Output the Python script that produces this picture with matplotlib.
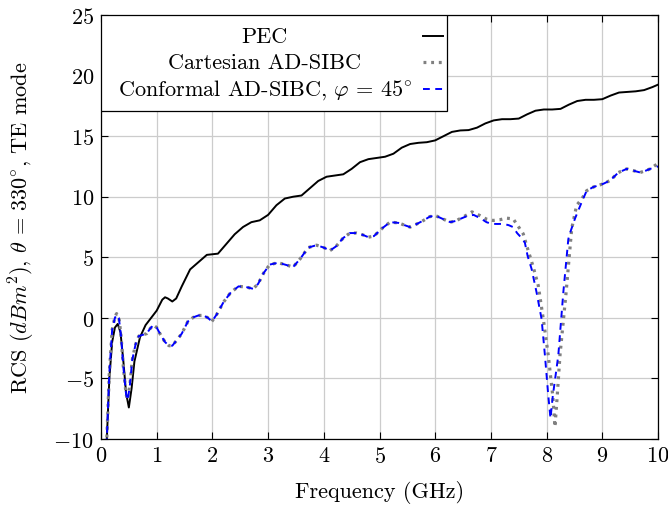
import matplotlib
matplotlib.use("Agg")
import matplotlib.pyplot as plt
from matplotlib.lines import Line2D
from matplotlib.patches import Rectangle

plt.rcParams['font.family'] = 'cmr10'
plt.rcParams['mathtext.fontset'] = 'cm'
plt.rcParams['axes.formatter.use_mathtext'] = True
plt.rcParams['axes.unicode_minus'] = True

# ---- data ----
freq_pec = [0.10, 0.15, 0.20, 0.25, 0.30, 0.35, 0.40, 0.45, 0.50, 0.55, 0.60, 0.70, 0.80, 0.90,
            1.00, 1.10, 1.15, 1.20, 1.28, 1.35, 1.45, 1.60, 1.75, 1.90, 2.00, 2.10, 2.25, 2.40,
            2.55, 2.70, 2.85, 3.00, 3.15, 3.30, 3.45, 3.60, 3.75, 3.90, 4.05, 4.20, 4.35, 4.50,
            4.65, 4.80, 4.95, 5.10, 5.25, 5.40, 5.55, 5.70, 5.85, 6.00, 6.15, 6.30, 6.45, 6.60,
            6.75, 6.90, 7.05, 7.20, 7.35, 7.50, 7.65, 7.80, 7.95, 8.10, 8.25, 8.40, 8.55, 8.70,
            8.85, 9.00, 9.15, 9.30, 9.45, 9.60, 9.75, 9.90, 10.0]
rcs_pec = [-10.5, -5.0, -2.0, -0.8, -0.5, -1.2, -3.5, -6.2, -7.4, -5.8, -3.6, -1.6, -0.6, 0.0,
           0.6, 1.5, 1.7, 1.6, 1.35, 1.6, 2.6, 4.0, 4.6, 5.2, 5.25, 5.3, 6.1, 6.9,
           7.5, 7.9, 8.05, 8.5, 9.3, 9.85, 10.0, 10.1, 10.7, 11.3, 11.65, 11.75, 11.85, 12.3,
           12.85, 13.1, 13.2, 13.3, 13.55, 14.05, 14.35, 14.45, 14.5, 14.65, 15.0, 15.35, 15.47, 15.5,
           15.7, 16.05, 16.3, 16.4, 16.4, 16.45, 16.8, 17.1, 17.2, 17.2, 17.25, 17.6, 17.9, 18.0,
           18.0, 18.05, 18.35, 18.6, 18.65, 18.7, 18.8, 19.05, 19.25]

freq_cart = [0.10, 0.15, 0.20, 0.25, 0.28, 0.32, 0.36, 0.40, 0.45, 0.48, 0.52, 0.56, 0.62, 0.68,
             0.75, 0.82, 0.88, 0.94, 1.00, 1.07, 1.15, 1.22, 1.28, 1.35, 1.45, 1.56, 1.66, 1.75,
             1.84, 1.92, 1.99, 2.08, 2.20, 2.33, 2.47, 2.60, 2.73, 2.82, 2.92, 3.03, 3.18, 3.30,
             3.45, 3.58, 3.72, 3.87, 4.00, 4.11, 4.22, 4.35, 4.47, 4.59, 4.70, 4.80, 4.90, 5.05,
             5.19, 5.34, 5.45, 5.55, 5.67, 5.79, 5.90, 6.00, 6.12, 6.27, 6.37, 6.45, 6.57, 6.66,
             6.80, 6.92, 7.04, 7.16, 7.28, 7.40, 7.52, 7.58, 7.64, 7.76, 7.85, 7.94, 8.03, 8.11,
             8.15, 8.19, 8.24, 8.35, 8.45, 8.54, 8.63, 8.72, 8.84, 9.02, 9.14, 9.29, 9.44, 9.56,
             9.68, 9.78, 9.86, 10.0]
rcs_cart = [-10.5, -4.5, -1.0, 0.1, 0.35, 0.1, -1.5, -4.0, -6.3, -6.8, -5.5, -3.5, -2.2, -1.5,
            -1.4, -1.3, -0.9, -0.6, -0.8, -1.4, -2.0, -2.3, -2.3, -1.9, -1.3, -0.3, 0.05, 0.2,
            0.2, 0.0, -0.3, 0.3, 1.3, 2.1, 2.6, 2.55, 2.4, 2.8, 3.7, 4.4, 4.55, 4.4,
            4.2, 4.9, 5.8, 6.0, 5.8, 5.55, 5.9, 6.6, 7.0, 7.0, 6.85, 6.66, 6.75, 7.4,
            7.9, 7.84, 7.65, 7.49, 7.75, 8.04, 8.35, 8.45, 8.2, 7.9, 8.0, 8.2, 8.5, 8.75,
            8.45, 8.15, 8.04, 8.1, 8.23, 8.17, 7.35, 6.94, 6.0, 4.2, 2.67, -0.08, -3.1, -6.4,
            -9.0, -6.5, -3.1, 2.1, 7.35, 9.3, 9.8, 10.5, 10.8, 11.07, 11.34, 12.0, 12.3, 12.15,
            12.0, 12.15, 12.3, 12.75]

freq_conf = [0.10, 0.15, 0.20, 0.25, 0.28, 0.32, 0.36, 0.40, 0.45, 0.48, 0.52, 0.56, 0.62, 0.68,
             0.75, 0.82, 0.88, 0.94, 1.00, 1.07, 1.15, 1.22, 1.28, 1.35, 1.45, 1.56, 1.66, 1.75,
             1.84, 1.92, 1.99, 2.08, 2.20, 2.33, 2.47, 2.60, 2.73, 2.82, 2.92, 3.03, 3.18, 3.30,
             3.45, 3.58, 3.72, 3.87, 4.00, 4.11, 4.22, 4.35, 4.47, 4.59, 4.70, 4.80, 4.90, 5.05,
             5.19, 5.34, 5.45, 5.55, 5.67, 5.79, 5.90, 6.00, 6.12, 6.27, 6.37, 6.45, 6.57, 6.69,
             6.82, 6.92, 7.01, 7.12, 7.22, 7.32, 7.40, 7.47, 7.55, 7.61, 7.66, 7.73, 7.82, 7.91,
             7.97, 8.03, 8.07, 8.11, 8.16, 8.21, 8.30, 8.39, 8.42, 8.51, 8.63, 8.72, 8.84, 9.02,
             9.14, 9.29, 9.44, 9.56, 9.68, 9.78, 9.86, 10.0]
rcs_conf = [-10.5, -4.5, -1.0, 0.0, 0.25, 0.0, -1.5, -4.0, -6.3, -6.8, -5.5, -3.5, -2.2, -1.5,
            -1.4, -1.3, -0.9, -0.6, -0.8, -1.4, -2.0, -2.3, -2.3, -1.9, -1.3, -0.3, 0.05, 0.2,
            0.2, 0.0, -0.3, 0.3, 1.3, 2.1, 2.6, 2.55, 2.4, 2.8, 3.7, 4.4, 4.55, 4.4,
            4.2, 4.9, 5.8, 6.0, 5.8, 5.55, 5.9, 6.6, 7.0, 7.0, 6.85, 6.66, 6.75, 7.4,
            7.9, 7.84, 7.65, 7.49, 7.75, 8.04, 8.35, 8.45, 8.2, 7.9, 8.0, 8.17, 8.4, 8.5,
            8.2, 7.9, 7.76, 7.75, 7.76, 7.65, 7.49, 7.0, 6.6, 6.2, 5.1, 4.05, 2.1, -0.1,
            -3.1, -6.4, -8.3, -6.5, -4.8, -3.1, 2.1, 6.5, 7.0, 8.2, 9.55, 10.5, 10.8, 11.07,
            11.34, 12.0, 12.3, 12.15, 12.0, 12.15, 12.3, 12.5]

labels = ["PEC", "Cartesian AD-SIBC", r"Conformal AD-SIBC, $\varphi\, =\, 45^{\circ}$"]
x_ticks = [0, 1, 2, 3, 4, 5, 6, 7, 8, 9, 10]
y_ticks = [-10, -5, 0, 5, 10, 15, 20, 25]

FS = 16

# ---- figure ----
fig = plt.figure(figsize=(6.68, 5.06), dpi=100)
ax = fig.add_axes([101 / 668, 66 / 506, 557 / 668, 424 / 506])

styles = [
    dict(color='black', lw=1.4, ls='-'),
    dict(color=(0.5, 0.5, 0.5), lw=2.3, ls=(0, (0.9, 1.5)), dash_capstyle='butt'),
    dict(color=(0, 0, 1), lw=1.4, ls=(0, (3.5, 2.8))),
]
ax.plot(freq_pec, rcs_pec, **styles[0], zorder=3)
ax.plot(freq_cart, rcs_cart, **styles[1], zorder=3)
ax.plot(freq_conf, rcs_conf, **styles[2], zorder=4)

ax.set_xlim(0, 10)
ax.set_ylim(-10, 25)
ax.set_xticks(x_ticks)
ax.set_yticks(y_ticks)
ax.grid(True, color=(0.8, 0.8, 0.8), lw=0.9, zorder=0)
ax.set_axisbelow(True)
ax.tick_params(direction='in', top=True, right=True, length=5, width=0.8,
               labelsize=FS, pad=5, color='black')
for s in ax.spines.values():
    s.set_linewidth(0.9)
    s.set_zorder(6)

ax.set_xlabel("Frequency (GHz)", fontsize=FS, labelpad=10)
ax.set_ylabel(r"RCS ($dBm^2$), $\theta\, =\, 330^{\circ}$, TE mode", fontsize=FS, labelpad=12)

# ---- legend (pgfplots-like: centered text, sample on the right) ----
ax.add_patch(Rectangle((0, 0.774), 0.621, 0.226, transform=ax.transAxes,
                       facecolor='white', edgecolor='black', lw=0.9, zorder=10))
row_y = [0.950, 0.889, 0.826]
for lab, yy, st in zip(labels, row_y, styles):
    ax.text(0.294, yy, lab, transform=ax.transAxes, ha='center', va='center',
            fontsize=FS, zorder=11)
    ax.add_line(Line2D([0.578, 0.614], [yy, yy], transform=ax.transAxes, zorder=11, **st))

fig.savefig("out.png", dpi=100)
